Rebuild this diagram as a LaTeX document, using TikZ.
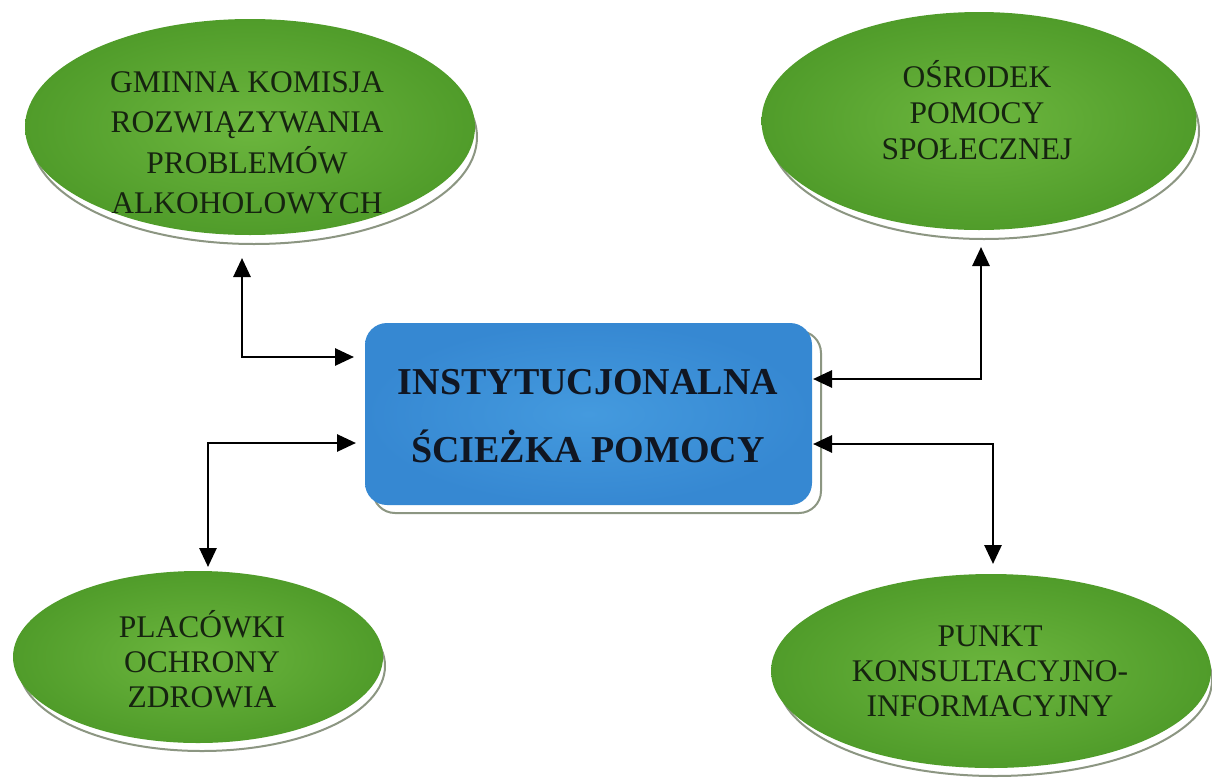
\documentclass[tikz,border=0pt]{standalone}
\usepackage{fontspec}
\setmainfont{Liberation Serif}
\usetikzlibrary{shapes.geometric,arrows.meta,shadings}
\definecolor{gin}{RGB}{108,182,62}
\definecolor{gout}{RGB}{80,156,42}
\definecolor{bin}{RGB}{68,154,222}
\definecolor{bout}{RGB}{54,136,210}
\definecolor{rimc}{RGB}{140,150,130}
\definecolor{txtg}{RGB}{22,36,16}
\definecolor{txtb}{RGB}{16,22,34}
\tikzset{
  oval/.style={ellipse, inner sep=0pt, inner color=gin, outer color=gout},
  ovalrim/.style={ellipse, inner sep=0pt, fill=white, draw=rimc, line width=2pt},
  centre/.style={rounded corners=22pt, inner color=bin, outer color=bout},
  centrerim/.style={rounded corners=22pt, fill=white, draw=rimc, line width=2pt},
  lbl/.style={align=center, text=txtg, inner sep=0pt},
  arr/.style={{Triangle[length=19pt,width=17pt]}-{Triangle[length=19pt,width=17pt]}, line width=2.8pt, black}
}
\begin{document}
\begin{tikzpicture}[x=1pt,y=-1pt]
\useasboundingbox (0,0) rectangle (1212,777);
\fill[white] (0,0) rectangle (1212,777);
% ellipse rims
\node[ovalrim, minimum width=446pt, minimum height=214pt] (g1r) at (254,137) {};
\node[ovalrim, minimum width=430pt, minimum height=216pt] (g2r) at (984,131) {};
\node[ovalrim, minimum width=366pt, minimum height=170pt] (g3r) at (202,666) {};
\node[ovalrim, minimum width=434pt, minimum height=192pt] (g4r) at (995,680) {};
% ellipses
\node[oval, minimum width=450pt, minimum height=216pt] (g1) at (250,127) {};
\node[oval, minimum width=435pt, minimum height=218pt] (g2) at (979,121) {};
\node[oval, minimum width=370pt, minimum height=172pt] (g3) at (198,657) {};
\node[oval, minimum width=440pt, minimum height=194pt] (g4) at (991,671) {};
% central box
\path[centrerim] (373,331) rectangle (821,513);
\path[centre] (365,323) rectangle (812,505);
\coordinate (box) at (588,416);
% labels
\node[lbl, font=\fontsize{31.5}{40.5}\selectfont] (t1) at (247,143) {GMINNA KOMISJA\\ROZWIĄZYWANIA\\PROBLEMÓW\\ALKOHOLOWYCH};
\node[lbl, font=\fontsize{31.5}{36}\selectfont] (t2) at (977,110) {OŚRODEK\\POMOCY\\SPOŁECZNEJ};
\node[lbl, font=\fontsize{31.5}{35}\selectfont] (t3) at (202,659) {PLACÓWKI\\OCHRONY\\ZDROWIA};
\node[lbl, font=\fontsize{31.5}{35}\selectfont] (t4) at (990,671) {PUNKT\\KONSULTACYJNO-\\INFORMACYJNY};
\node[lbl, text=txtb, font=\fontsize{38}{68}\selectfont\bfseries] (t0) at (box) {INSTYTUCJONALNA\\ŚCIEŻKA POMOCY};
% connector end points
\coordinate (a1) at (242,258);
\coordinate (b1) at (354,357);
\coordinate (a2) at (981,247);
\coordinate (b2) at (813,379);
\coordinate (a3) at (208,567);
\coordinate (b3) at (356,443);
\coordinate (a4) at (993,564);
\coordinate (b4) at (813,444);
% connectors
\draw[arr] (a1) |- (b1);
\draw[arr] (a2) |- (b2);
\draw[arr] (a3) |- (b3);
\draw[arr] (a4) |- (b4);
\end{tikzpicture}
\end{document}
